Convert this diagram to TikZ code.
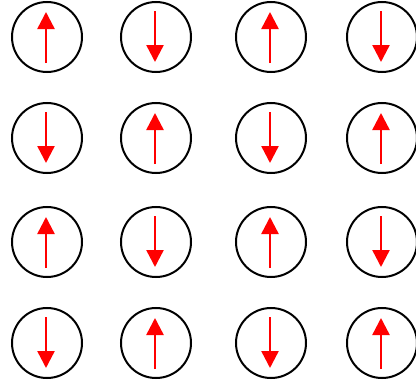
\documentclass[tikz,border=0pt]{standalone}
\usetikzlibrary{arrows.meta}
\begin{document}
\begin{tikzpicture}[x=1pt,y=-1pt,
  site/.style={circle,draw=black,line width=2pt,minimum size=70pt,inner sep=0pt},
  spin/.style={draw=red,line width=2.4pt,-{Triangle[length=17pt,width=17pt]},red}]
\useasboundingbox (0,0) rectangle (416,388);
\foreach \r/\y in {1/37,2/138,3/242,4/343}{
  \foreach \c/\x in {1/47,2/156,3/271,4/382}{
    \node[site] (c\r\c) at (\x,\y) {};
    \pgfmathtruncatemacro{\parity}{mod(\r+\c,2)}
    \ifnum\parity=0
      \draw[spin] ([xshift=-1pt,yshift=-26pt]c\r\c.center) -- ([xshift=-1pt,yshift=25pt]c\r\c.center);
    \else
      \draw[spin] ([xshift=-1pt,yshift=26pt]c\r\c.center) -- ([xshift=-1pt,yshift=-25pt]c\r\c.center);
    \fi
  }
}
\end{tikzpicture}
\end{document}
